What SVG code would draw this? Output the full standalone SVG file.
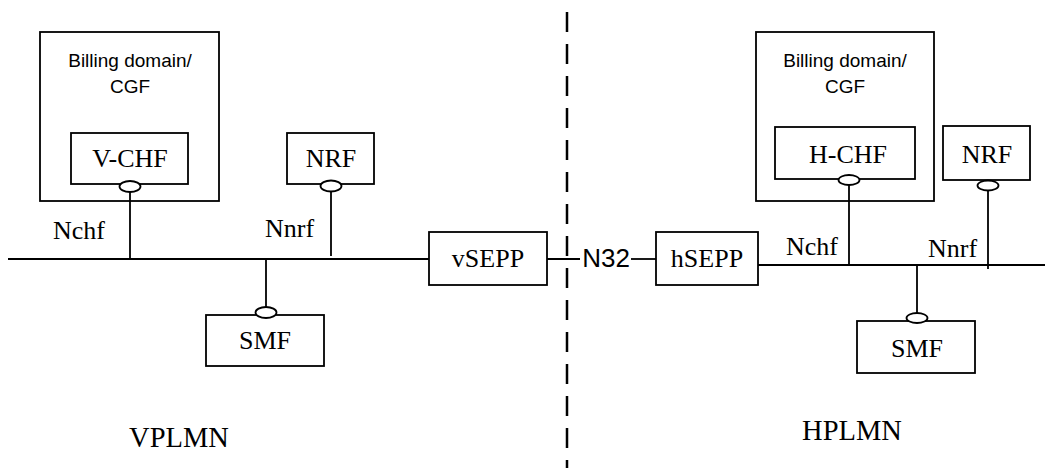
<svg xmlns="http://www.w3.org/2000/svg" width="1045" height="468" viewBox="0 0 1045 468">
<style>
.box{fill:none;stroke:#000;stroke-width:1.8}
.ln{fill:none;stroke:#000;stroke-width:1.8}
.ep{fill:#fff;stroke:#000;stroke-width:1.8}
.t{font-family:"Liberation Serif","Times New Roman",serif;font-size:26px;fill:#000;text-anchor:middle}
.tl{font-family:"Liberation Serif","Times New Roman",serif;font-size:26px;fill:#000}
.s{font-family:"Liberation Sans",Arial,sans-serif;font-size:19px;fill:#000;text-anchor:middle}
.big{font-family:"Liberation Serif","Times New Roman",serif;font-size:28.5px;fill:#000;text-anchor:middle}
</style>
<rect width="1045" height="468" fill="#fff"/>
<g id="connectors">
<line class="ln" x1="8" y1="259" x2="429" y2="259"/>
<line class="ln" x1="130" y1="192" x2="130" y2="259"/>
<line class="ln" x1="331" y1="191" x2="331" y2="256"/>
<line class="ln" x1="266" y1="259" x2="266" y2="307"/>
<line class="ln" x1="547" y1="259" x2="580" y2="259"/>
<line class="ln" x1="631" y1="259" x2="656" y2="259"/>
<line class="ln" x1="758" y1="265" x2="1045" y2="265"/>
<line class="ln" x1="849" y1="184" x2="849" y2="265"/>
<line class="ln" x1="988" y1="191" x2="988" y2="269"/>
<line class="ln" x1="917" y1="265" x2="917" y2="313"/>
<line x1="567" y1="12" x2="567" y2="468" stroke="#000" stroke-width="2.5" stroke-dasharray="20 12"/>
<text class="tl" x="53" y="239">Nchf</text>
<text class="tl" x="265" y="237">Nnrf</text>
<text class="tl" x="786" y="255">Nchf</text>
<text class="tl" x="928" y="257">Nnrf</text>
<text x="606" y="267" font-family="Liberation Sans,Arial,sans-serif" font-size="26" text-anchor="middle">N32</text>
</g>
<g id="v-billing">
<rect class="box" x="40" y="32" width="179" height="169"/>
<text class="s" x="130" y="67">Billing domain/</text>
<text class="s" x="130" y="93">CGF</text>
</g>
<g id="v-chf">
<rect class="box" x="71" y="133" width="117" height="51"/>
<text class="t" x="130" y="167">V-CHF</text>
<ellipse class="ep" cx="130" cy="186.5" rx="10.5" ry="5.5"/>
</g>
<g id="v-nrf">
<rect class="box" x="287" y="133" width="87" height="51"/>
<text class="t" x="331" y="167">NRF</text>
<ellipse class="ep" cx="331" cy="186" rx="10.5" ry="5.5"/>
</g>
<g id="v-smf">
<rect class="box" x="206" y="315" width="118" height="51"/>
<text class="t" x="265" y="349">SMF</text>
<ellipse class="ep" cx="266" cy="312.5" rx="10.5" ry="5.5"/>
</g>
<g id="vsepp">
<rect class="box" x="429" y="232" width="118" height="53"/>
<text class="t" x="488" y="267">vSEPP</text>
</g>
<g id="hsepp">
<rect class="box" x="656" y="232" width="102" height="53"/>
<text class="t" x="707" y="267">hSEPP</text>
</g>
<g id="h-billing">
<rect class="box" x="756" y="32" width="178" height="169"/>
<text class="s" x="845" y="67">Billing domain/</text>
<text class="s" x="845" y="93">CGF</text>
</g>
<g id="h-chf">
<rect class="box" x="775" y="127" width="140" height="52"/>
<text class="t" x="848" y="163">H-CHF</text>
<ellipse class="ep" cx="849" cy="180" rx="10.5" ry="5"/>
</g>
<g id="h-nrf">
<rect class="box" x="943" y="126" width="87" height="54"/>
<text class="t" x="987" y="163">NRF</text>
<ellipse class="ep" cx="988" cy="185.5" rx="10.5" ry="5"/>
</g>
<g id="h-smf">
<rect class="box" x="857" y="321" width="118" height="52"/>
<text class="t" x="917" y="357">SMF</text>
<ellipse class="ep" cx="917" cy="318" rx="10.5" ry="5"/>
</g>
<g id="labels">
<text class="big" x="179" y="447">VPLMN</text>
<text class="big" x="852" y="440">HPLMN</text>
</g>
</svg>
